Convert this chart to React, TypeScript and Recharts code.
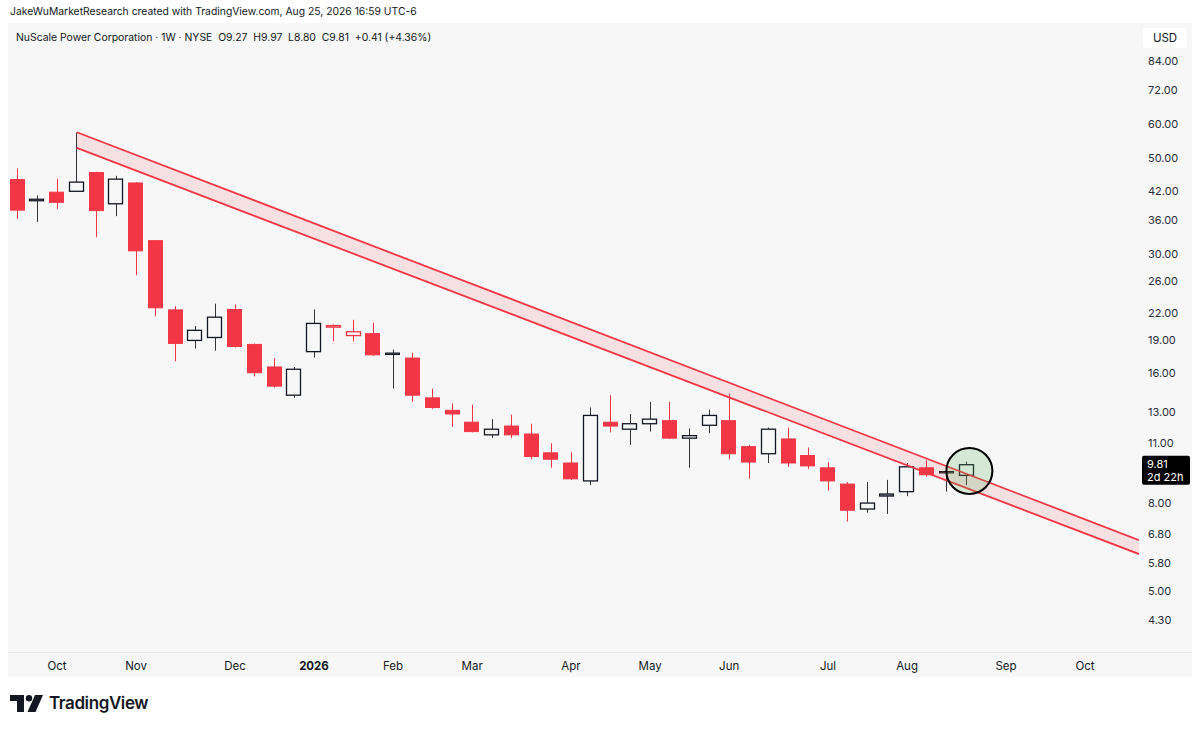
import React from 'react';
import { ComposedChart, Bar, Area, Line, XAxis, YAxis, ReferenceLine, ReferenceDot } from 'recharts';

// ---------- data ----------
const weekStarts = [
  '2025-09-22', '2025-09-29', '2025-10-06', '2025-10-13', '2025-10-20', '2025-10-27',
  '2025-11-03', '2025-11-10', '2025-11-17', '2025-11-24', '2025-12-01', '2025-12-08',
  '2025-12-15', '2025-12-22', '2025-12-29', '2026-01-05', '2026-01-12', '2026-01-19',
  '2026-01-26', '2026-02-02', '2026-02-09', '2026-02-16', '2026-02-23', '2026-03-02',
  '2026-03-09', '2026-03-16', '2026-03-23', '2026-03-30', '2026-04-06', '2026-04-13',
  '2026-04-20', '2026-04-27', '2026-05-04', '2026-05-11', '2026-05-18', '2026-05-25',
  '2026-06-01', '2026-06-08', '2026-06-15', '2026-06-22', '2026-06-29', '2026-07-06',
  '2026-07-13', '2026-07-20', '2026-07-27', '2026-08-03', '2026-08-10', '2026-08-17',
  '2026-08-24',
];
const opens = [
  44.7, 40.0, 41.8, 42.0, 46.4, 39.3, 43.9, 32.3, 22.35, 19.0, 19.3, 22.4,
  18.6, 16.5, 14.2, 17.9, 20.45, 19.5, 19.7, 17.75, 17.3, 14.0, 13.1, 12.3,
  11.5, 12.05, 11.55, 10.45, 9.9, 9.0, 12.3, 11.85, 12.2, 12.4, 11.3, 12.1,
  12.4, 10.8, 10.4, 11.25, 10.3, 9.65, 8.85, 7.75, 8.4, 8.5, 9.65, 9.45,
  9.27,
];
const highs = [
  47.4, 41.1, 44.9, 57.5, 46.6, 45.6, 44.1, 32.4, 22.8, 20.5, 23.1, 23.0,
  18.7, 17.3, 16.5, 22.4, 20.7, 21.2, 20.9, 18.1, 17.8, 14.7, 13.6, 13.5,
  12.5, 12.8, 12.2, 11.0, 10.5, 13.3, 14.2, 12.85, 13.7, 13.7, 11.9, 13.15,
  14.3, 10.9, 11.95, 11.95, 10.75, 9.95, 8.95, 8.95, 9.05, 9.9, 10.05, 9.7,
  9.97,
];
const lows = [
  36.3, 35.7, 38.2, 41.9, 32.9, 36.8, 26.9, 21.6, 17.0, 18.2, 18.0, 18.3,
  15.7, 14.8, 14.0, 17.35, 18.9, 18.9, 17.5, 14.7, 13.7, 13.2, 12.0, 11.65,
  11.3, 11.3, 10.1, 9.65, 9.05, 8.8, 11.65, 10.9, 11.7, 11.25, 9.65, 11.6,
  10.1, 9.1, 9.9, 9.7, 9.6, 8.55, 7.25, 7.6, 7.55, 8.3, 9.2, 8.5,
  8.8,
];
const closes = [
  38.0, 40.2, 39.6, 44.1, 37.9, 44.8, 30.6, 22.6, 18.7, 20.05, 21.5, 18.4,
  16.0, 14.9, 16.3, 20.8, 20.5, 19.9, 17.6, 17.65, 14.2, 13.3, 12.85, 11.7,
  11.85, 11.5, 10.25, 10.1, 9.1, 12.75, 12.05, 12.2, 12.5, 11.3, 11.45, 12.75,
  10.4, 9.95, 11.85, 9.9, 9.75, 9.0, 7.7, 8.0, 8.3, 9.7, 9.3, 9.4,
  9.81,
];

const monthTickWeeks = [0, 4, 9, 13, 17, 21, 26, 30, 34, 39, 43, 48, 52];
const monthTickLabels = ['Oct', 'Nov', 'Dec', '2026', 'Feb', 'Mar', 'Apr', 'May', 'Jun', 'Jul', 'Aug', 'Sep', 'Oct'];
const priceTicks = [4.3, 5, 5.8, 6.8, 8, 11, 13, 16, 19, 22, 26, 30, 36, 42, 50, 60, 72, 84];

const channelWeeks = [1, 54.73];
const channelUpper = [57.5, 6.57];
const channelLower = [52.9, 6.1];

const lastPrice = 9.81;
const countdown = '2d 22h';
const circleWeek = 46.15;
const circlePrice = 9.49;

// ---------- layout constants ----------
const X_DOMAIN: [number, number] = [-2.478, 54.73];
const Y_DOMAIN: [number, number] = [3.623, 102.8];
const CHART_W = 1184;
const CHART_H = 654;
const AXIS_W = 53;
const XAXIS_H = 25;
const BG = '#f7f7f7';
const RED = '#f23645';
const DARK = '#131722';
const FONT = "Inter, 'Noto Sans', 'DejaVu Sans', sans-serif";

const candleRows = weekStarts.map((d, i) => ({
  date: d,
  week: i - 2,
  range: [lows[i], highs[i]],
  open: opens[i],
  high: highs[i],
  low: lows[i],
  close: closes[i],
  prevClose: i > 0 ? closes[i - 1] : null,
}));

const channelRows = channelWeeks.map((w, i) => ({
  week: w,
  band: [channelLower[i], channelUpper[i]],
  upper: channelUpper[i],
  lower: channelLower[i],
}));

const Candle = (props: any) => {
  const { x, y, width, height, payload } = props;
  if (!payload || x == null || y == null) return null;
  const top = Math.min(y, y + height);
  const bottom = Math.max(y, y + height);
  const { open, close, high, low, prevClose } = payload;
  const lh = Math.log(high);
  const ll = Math.log(low);
  const py = (p: number) => (lh === ll ? top : top + ((lh - Math.log(p)) / (lh - ll)) * (bottom - top));
  const up = close >= open;
  const bull = prevClose == null ? up : close >= prevClose;
  const color = bull ? DARK : RED;
  const wickColor = bull ? '#333' : RED;
  const cx = Math.round(x + width / 2) + 0.5;
  let bTop = py(Math.max(open, close));
  let bBot = py(Math.min(open, close));
  if (bBot - bTop < 1.5) {
    const m = (bTop + bBot) / 2;
    bTop = m - 0.75;
    bBot = m + 0.75;
  }
  const left = Math.round(x) + 0.5;
  const w = Math.round(width) - 1;
  let fill = BG;
  if (!up) fill = bull ? '#5d606b' : RED;
  return (
    <g>
      <line x1={cx} x2={cx} y1={top} y2={bTop} stroke={wickColor} strokeWidth={1} />
      <line x1={cx} x2={cx} y1={bBot} y2={bottom} stroke={wickColor} strokeWidth={1} />
      <rect x={left} y={bTop} width={w} height={bBot - bTop} fill={fill} stroke={color} strokeWidth={up ? 1.3 : 1} />
    </g>
  );
};

const MonthTick = (props: any) => {
  const { x, y, payload } = props;
  const idx = monthTickWeeks.indexOf(payload.value);
  const label = idx >= 0 ? monthTickLabels[idx] : '';
  const bold = /^\d{4}$/.test(label);
  return (
    <text x={x} y={y + 2} dy="0.71em" textAnchor="middle" fontSize={11.5} fontWeight={bold ? 700 : 400} fill={DARK} fontFamily={FONT}>
      {label}
    </text>
  );
};

const PriceTag = (props: any) => {
  const vb = props.viewBox || {};
  const x0 = (vb.x || 0) + (vb.width || 0) + 3;
  const y0 = (vb.y || 0) - 9;
  return (
    <g>
      <rect x={x0} y={y0} width={48} height={29} rx={2} fill="#000" />
      <text x={x0 + 5} y={y0 + 12} fontSize={11} fill="#fff" fontFamily={FONT}>
        {lastPrice.toFixed(2)}
      </text>
      <text x={x0 + 5} y={y0 + 25} fontSize={11} fill="#fff" fontFamily={FONT}>
        {countdown}
      </text>
    </g>
  );
};

const TvLogo = () => (
  <svg width={36} height={17} viewBox="0 0 36 17" style={{ display: 'block' }}>
    <path d="M0 0 H14 V17 H7 V6 H0 Z" fill={DARK} />
    <circle cx={19} cy={3.2} r={3.2} fill={DARK} />
    <path d="M25 0 H33 L25.5 17 H17.5 Z" fill={DARK} />
  </svg>
);

export default function App() {
  return (
    <div style={{ position: 'absolute', left: 0, top: 0, width: 1200, height: 729, background: '#fff', fontFamily: FONT, overflow: 'hidden' }}>
      <div style={{ position: 'absolute', left: 10, top: 5, fontSize: 10.35, color: DARK, whiteSpace: 'nowrap', lineHeight: '13px' }}>
        JakeWuMarketResearch created with TradingView.com, Aug 25, 2026 16:59 UTC-6
      </div>
      <div style={{ position: 'absolute', left: 8, top: 23, width: CHART_W, height: CHART_H, background: BG }} />
      <div style={{ position: 'absolute', left: 8, top: 23 }}>
        <ComposedChart width={CHART_W} height={CHART_H} data={candleRows} margin={{ top: 0, right: 0, bottom: 0, left: 0 }}>
          <XAxis
            dataKey="week"
            type="number"
            domain={X_DOMAIN}
            allowDataOverflow
            ticks={monthTickWeeks}
            interval={0}
            tick={<MonthTick />}
            axisLine={false}
            tickLine={false}
            height={XAXIS_H}
          />
          <YAxis
            orientation="right"
            type="number"
            scale="log"
            domain={Y_DOMAIN}
            allowDataOverflow
            ticks={priceTicks}
            interval={0}
            tickFormatter={(v: number) => v.toFixed(2)}
            width={AXIS_W}
            axisLine={false}
            tickLine={false}
            tickSize={6}
            tickMargin={3}
            tick={{ fontSize: 11, fill: '#2a2e39', fontFamily: FONT }}
          />
          <Bar dataKey="range" barSize={15} shape={<Candle />} isAnimationActive={false} />
          <ReferenceLine y={lastPrice} stroke="none" label={<PriceTag />} />
        </ComposedChart>
      </div>
      <div style={{ position: 'absolute', left: 8, top: 23 }}>
        <ComposedChart width={CHART_W} height={CHART_H} data={channelRows} margin={{ top: 0, right: AXIS_W, bottom: XAXIS_H, left: 0 }}>
          <XAxis dataKey="week" type="number" domain={X_DOMAIN} allowDataOverflow hide />
          <YAxis type="number" scale="log" domain={Y_DOMAIN} allowDataOverflow hide />
          <Area dataKey="band" type="linear" fill={RED} fillOpacity={0.12} stroke="none" isAnimationActive={false} />
          <Line dataKey="upper" type="linear" stroke={RED} strokeWidth={1.8} dot={false} isAnimationActive={false} />
          <Line dataKey="lower" type="linear" stroke={RED} strokeWidth={1.8} dot={false} isAnimationActive={false} />
          <ReferenceDot x={circleWeek} y={circlePrice} r={23} fill="rgba(76,175,80,0.2)" stroke="#000" strokeWidth={2} />
        </ComposedChart>
      </div>
      <div style={{ position: 'absolute', left: 8, top: 652, width: CHART_W, height: 1, background: '#e3e5ea' }} />
      <div style={{ position: 'absolute', left: 16, top: 31, fontSize: 10.4, color: DARK, whiteSpace: 'nowrap', lineHeight: '13px' }}>
        NuScale Power Corporation · 1W · NYSE&nbsp;&nbsp;O9.27&nbsp;&nbsp;H9.97&nbsp;&nbsp;L8.80&nbsp;&nbsp;C9.81&nbsp;&nbsp;+0.41 (+4.36%)
      </div>
      <div style={{ position: 'absolute', left: 1143, top: 28, width: 44, height: 20, background: '#fff', borderRadius: 3, fontSize: 11.5, color: DARK, display: 'flex', alignItems: 'center', justifyContent: 'center' }}>
        USD
      </div>
      <div style={{ position: 'absolute', left: 10, top: 694, display: 'flex', alignItems: 'center', gap: 3 }}>
        <TvLogo />
        <span style={{ fontSize: 17, fontWeight: 600, color: DARK, letterSpacing: -0.4, lineHeight: '18px' }}>TradingView</span>
      </div>
    </div>
  );
}
